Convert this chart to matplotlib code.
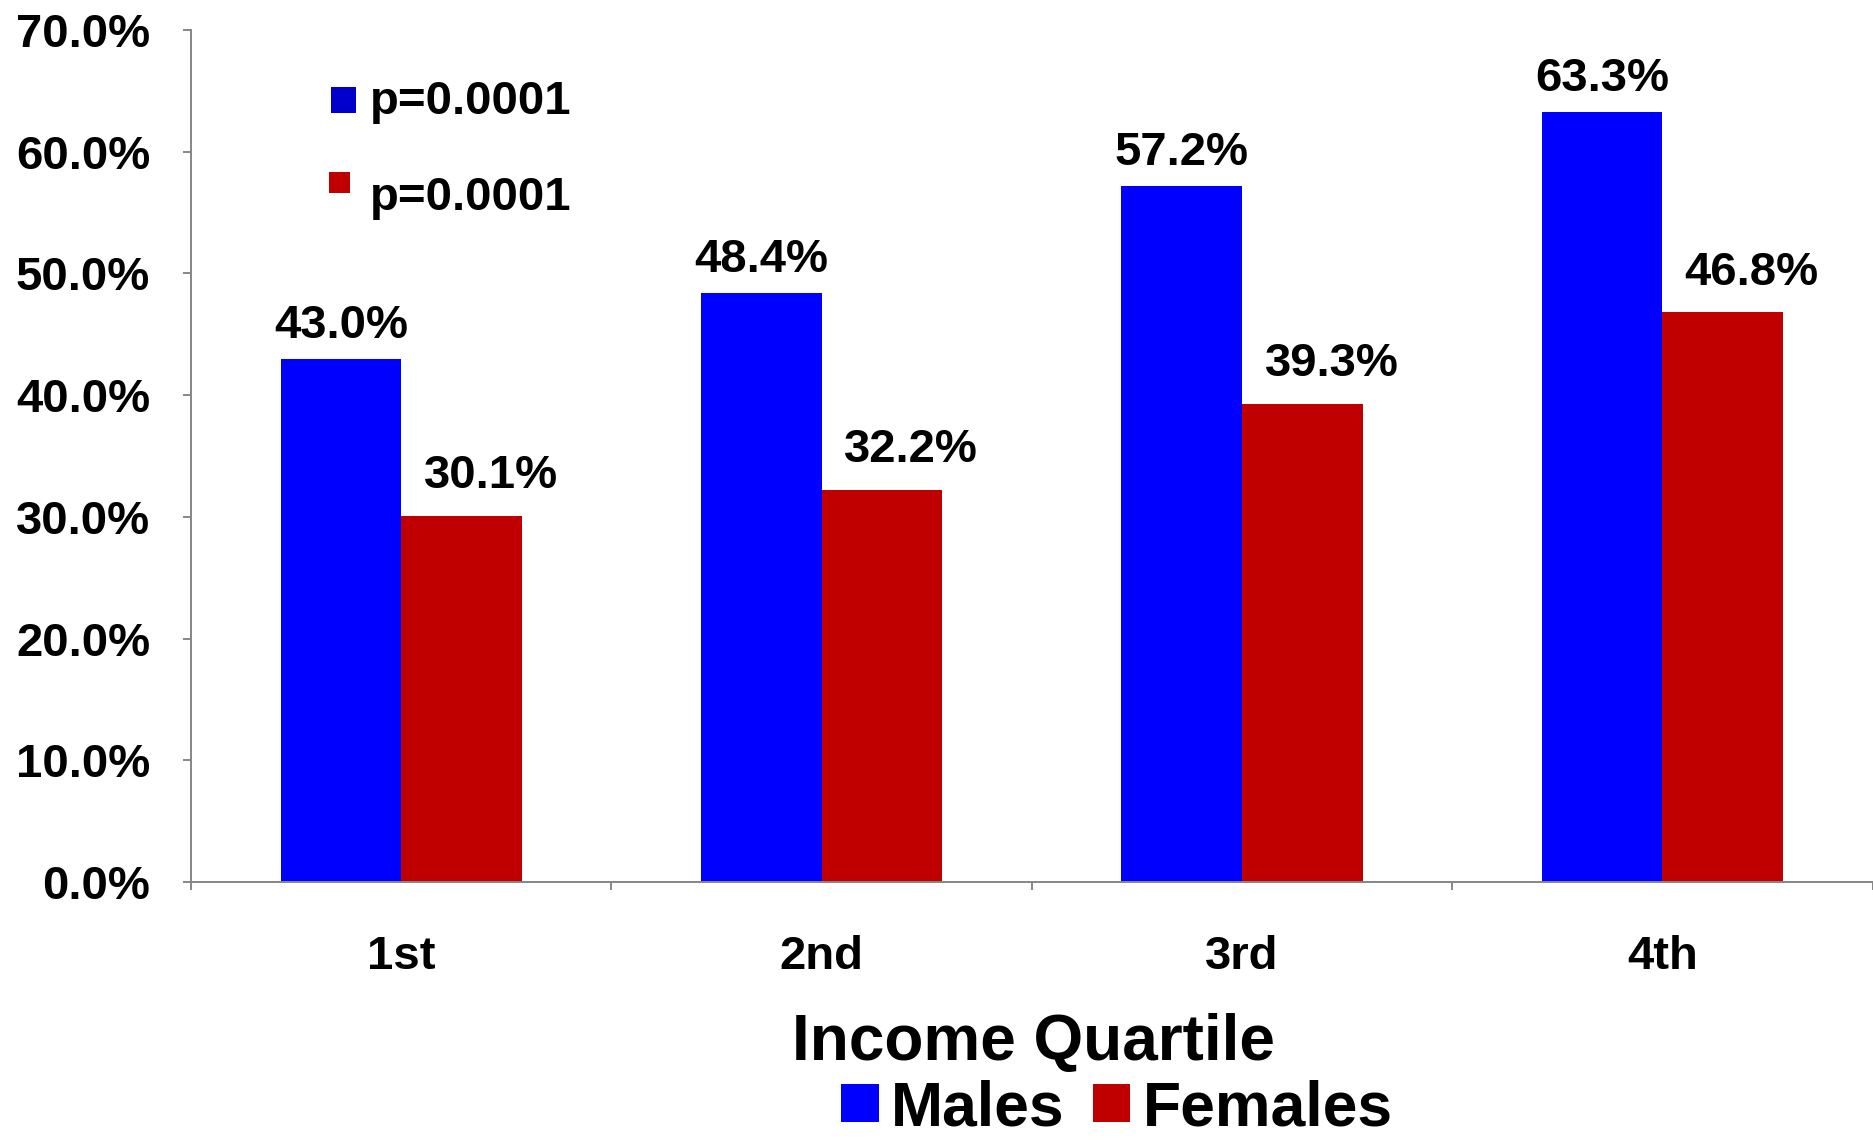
import numpy as np
import matplotlib
matplotlib.use("Agg")
import matplotlib.pyplot as plt
from matplotlib.patches import Rectangle
from matplotlib.ticker import FixedLocator, FuncFormatter

# Share of each income quartile (percent)
quartiles = ["1st", "2nd", "3rd", "4th"]
males = [43.0, 48.4, 57.2, 63.3]
females = [30.1, 32.2, 39.3, 46.8]
p_values = ["p=0.0001", "p=0.0001"]
series_names = ["Males", "Females"]

BLUE = "#0000FF"
RED = "#C00000"
GRAY = "#868686"

plt.rcParams["font.family"] = ["Liberation Sans", "DejaVu Sans"]
plt.rcParams["font.weight"] = "bold"

W, H = 1874, 1140
fig = plt.figure(figsize=(W / 100, H / 100), dpi=100)
ax = fig.add_axes([191 / W, 1 - 882 / H, (W - 191) / W - 0.0008, (882 - 30) / H])

x = np.arange(len(quartiles))
width = 0.287
bm = ax.bar(x - width / 2, males, width, color=BLUE, label=series_names[0])
bf = ax.bar(x + width / 2, females, width, color=RED, label=series_names[1])

# value labels above bars
for xi, v in zip(x, males):
    ax.annotate(f"{v:.1f}%", (xi - width / 2, v), xytext=(0, 15),
                textcoords="offset points", ha="center", va="baseline",
                fontsize=34, fontweight="bold")
for xi, v in zip(x, females):
    ax.annotate(f"{v:.1f}%", (xi + width / 2, v), xytext=(21, 20),
                textcoords="offset points", ha="center", va="baseline",
                fontsize=34, fontweight="bold")

ax.set_xlim(-0.5, len(quartiles) - 0.5)
ax.set_ylim(0, 70)
ax.set_yticks(np.arange(0, 71, 10))
ax.yaxis.set_major_formatter(FuncFormatter(lambda v, _: f"{v:.1f}%"))
ax.set_xticks(x)
ax.set_xticklabels(quartiles)
ax.xaxis.set_minor_locator(FixedLocator(np.arange(-0.5, len(quartiles), 1.0)))

for s in ["top", "right"]:
    ax.spines[s].set_visible(False)
for s in ["left", "bottom"]:
    ax.spines[s].set_color(GRAY)
    ax.spines[s].set_linewidth(1.4)

ax.tick_params(axis="y", direction="out", length=5.5, width=1.4, color=GRAY,
               pad=24, labelsize=34)
ax.tick_params(axis="x", which="major", length=0, pad=38, labelsize=34)
ax.tick_params(axis="x", which="minor", direction="out", length=5.5, width=1.4,
               color=GRAY)
for lab in ax.get_xticklabels() + ax.get_yticklabels():
    lab.set_fontweight("bold")

fig.text(1033 / W, 1 - 1060 / H, "Income Quartile", ha="center", va="baseline",
         fontsize=46, fontweight="bold")

ax.legend(handles=[bm, bf], loc="center", bbox_to_anchor=(1117 / W, 1 - 1109 / H),
          bbox_transform=fig.transFigure, ncol=2, frameon=False,
          prop={"size": 45, "weight": "bold"}, handlelength=0.6, handleheight=0.56,
          handletextpad=0.2, columnspacing=0.45, borderpad=0, borderaxespad=0)

# significance notes
notes = [("#0000CC", (331, 87, 25, 26), 114), (RED, (329, 172, 21, 21), 210)]
for (col, (rx, ry, rw, rh), base), txt in zip(notes, p_values):
    fig.add_artist(Rectangle((rx / W, 1 - (ry + rh) / H), rw / W, rh / H,
                             transform=fig.transFigure, color=col, lw=0))
    fig.text(370 / W, 1 - base / H, txt, ha="left", va="baseline",
             fontsize=34, fontweight="bold")

fig.savefig("out.png", dpi=100)
